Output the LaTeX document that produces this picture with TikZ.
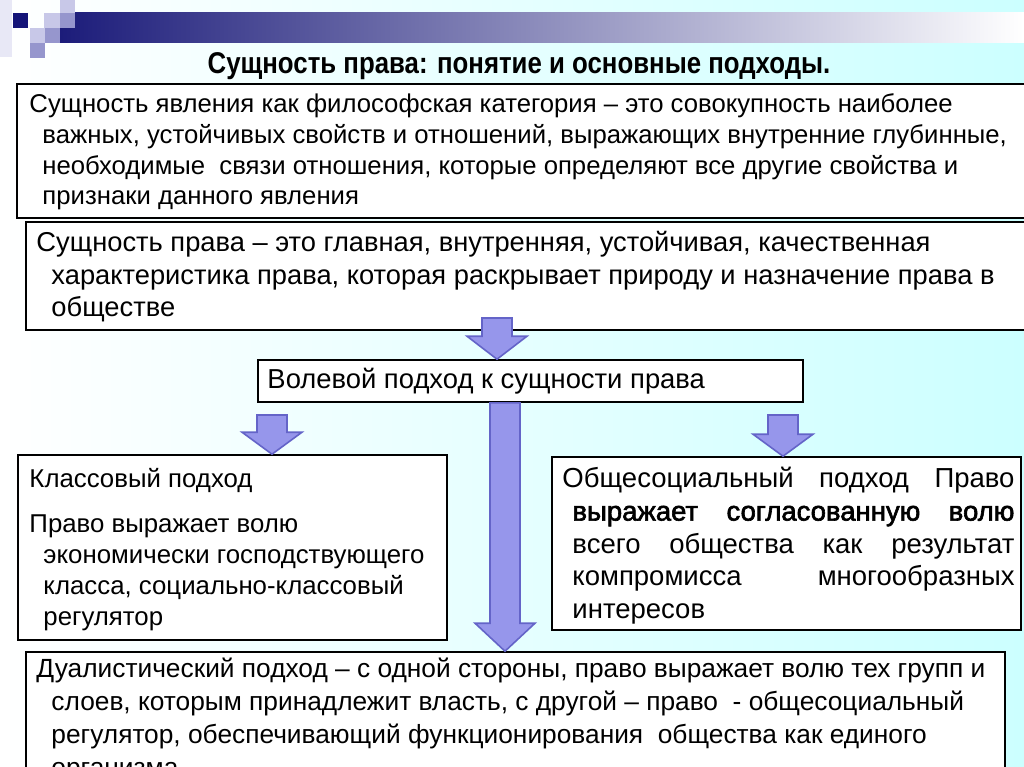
\documentclass[tikz,border=0pt]{standalone}
\usepackage{fontspec}
\setmainfont{Liberation Sans}
\newfontfamily\titlefont[FakeStretch=0.86]{Liberation Sans}
\newfontfamily\heavyfont[FakeBold=2.2]{Liberation Sans}
\usepackage{xcolor}
\definecolor{bgcyan}   {RGB}{204,255,255}
\definecolor{barnavy}  {RGB}{28,28,122}
\definecolor{arrowfill}{RGB}{150,150,235}
\definecolor{arrowline}{RGB}{100,100,200}
\definecolor{sqdark}   {RGB}{20,20,120}
\definecolor{sqmid}    {RGB}{150,150,205}
\definecolor{sqlight}  {RGB}{200,200,232}
\definecolor{sqpale}   {RGB}{232,232,246}
\usetikzlibrary{calc, fit}
\newlength\px
\setlength\px{0.025cm}
\newcommand\blockarrow[3]{%
  \draw[blockarrow] ($#1+(-15,0)$) -- ($#1+(15,0)$) -- ($#2+(15,-#3)$)
    -- ($#2+(30,-#3)$) -- #2 -- ($#2+(-30,-#3)$) -- ($#2+(-15,-#3)$) -- cycle;}
\tikzset{
  boxframe/.style={draw=black, line width=1.6\px, fill=white, inner sep=0pt},
  boxtext/.style 2 args={anchor=north west, inner sep=0pt, align=left,
    font=\fontsize{#1\px}{#2\px}\selectfont},
  blockarrow/.style={fill=arrowfill, draw=arrowline, line width=1.6\px,
    line join=miter},
}

\begin{document}
\begin{tikzpicture}[x=1\px, y=-1\px,
  titletext/.style={font=\titlefont\bfseries\fontsize{30\px}{34\px}\selectfont}]
\useasboundingbox (0,0) rectangle (1024,767);
\clip (0,0) rectangle (1024,767);
% background and the strip at the top
\shade[left color=white, right color=bgcyan] (0,0) rectangle (1024,767);
\shade[left color=barnavy, right color=white] (60,13) rectangle (1024,43);
\fill[sqpale]  (0,0)   rectangle (12,57);
\fill[sqdark]  (13,13) rectangle (28,28);
\fill[sqlight] (44,13) rectangle (60,28);
\fill[sqlight] (60,0)  rectangle (75,13);
\fill[sqmid]   (60,13) rectangle (75,28);
\fill[sqlight] (30,28) rectangle (45,43);
\fill[sqmid]   (45,28) rectangle (60,43);
\fill[sqmid]   (30,43) rectangle (45,58);
\node[titletext] (title) at (519,66) {Сущность права: понятие и основные подходы.};
% boxes
\node[boxframe, fit={(17,84) (1040,218)}] (b1) {};
\node[boxframe, fit={(26,222) (1040,330)}] (b2) {};
\node[boxframe, fit={(258,360) (803,402)}] (b3) {};
\node[boxframe, fit={(18,455) (447,640)}] (b4) {};
\node[boxframe, fit={(552,457) (1021,630)}] (b5) {};
\node[boxframe, fit={(26,652) (1005,800)}] (b6) {};
% texts
\node[boxtext={25.7}{30.7}] (t1) at ([xshift=13\px, yshift=-10.5\px]b1.north west)
  {Сущность явления как философская категория – это совокупность наиболее\\
   \hspace*{13\px}важных, устойчивых свойств и отношений, выражающих внутренние глубинные,\\
   \hspace*{13\px}необходимые\ \ связи отношения, которые определяют все другие свойства и\\
   \hspace*{13\px}признаки данного явления};
\node[boxtext={27.3}{32.5}] (t2) at ([xshift=11\px, yshift=-10\px]b2.north west)
  {Сущность права – это главная, внутренняя, устойчивая, качественная\\
   \hspace*{15\px}характеристика права, которая раскрывает природу и назначение права в\\
   \hspace*{15\px}обществе};
\node[boxtext={27.4}{31}] (t3) at ([xshift=10\px, yshift=-9\px]b3.north west)
  {Волевой подход к сущности права};
\node[boxtext={25.8}{31}] (t4) at ([xshift=12\px, yshift=-13.5\px]b4.north west)
  {Классовый подход\\[14\px]
   Право выражает волю\\
   \hspace*{14\px}экономически господствующего\\
   \hspace*{14\px}класса, социально-классовый\\
   \hspace*{14\px}регулятор};
\node[boxtext={27.5}{32.7}] (t5) at ([xshift=11\px, yshift=-11\px]b5.north west)
  {\makebox[452\px][s]{Общесоциальный подход Право}\\
   \hspace*{10\px}\makebox[442\px][s]{\heavyfont выражает согласованную волю}\\
   \hspace*{10\px}\makebox[442\px][s]{всего общества как результат}\\
   \hspace*{10\px}\makebox[442\px][s]{компромисса многообразных}\\
   \hspace*{10\px}интересов};
\node[boxtext={26.3}{33}] (t6) at ([xshift=11\px, yshift=-6\px]b6.north west)
  {Дуалистический подход – с одной стороны, право выражает волю тех групп и\\
   \hspace*{15\px}слоев, которым принадлежит власть, с другой – право\ \ - общесоциальный\\
   \hspace*{15\px}регулятор, обеспечивающий функционирования\ \ общества как единого\\
   \hspace*{15\px}организма};
% block arrows
\coordinate (ka) at (497,318);
\coordinate (ka tip) at (ka |- b3.north);
\coordinate (kb col) at (505,0);
\coordinate (kb) at (kb col |- b3.south);
\coordinate (kb tip) at (kb |- b6.north);
\coordinate (kc) at (272,415);
\coordinate (kc tip) at (kc |- b4.north);
\coordinate (kd) at (783,415);
\coordinate (kd tip) at (kd |- b5.north);
\blockarrow{(ka)}{(ka tip)}{23}
\blockarrow{(kb)}{(kb tip)}{28}
\blockarrow{(kc)}{(kc tip)}{22}
\blockarrow{(kd)}{(kd tip)}{22}
\end{tikzpicture}
\end{document}
